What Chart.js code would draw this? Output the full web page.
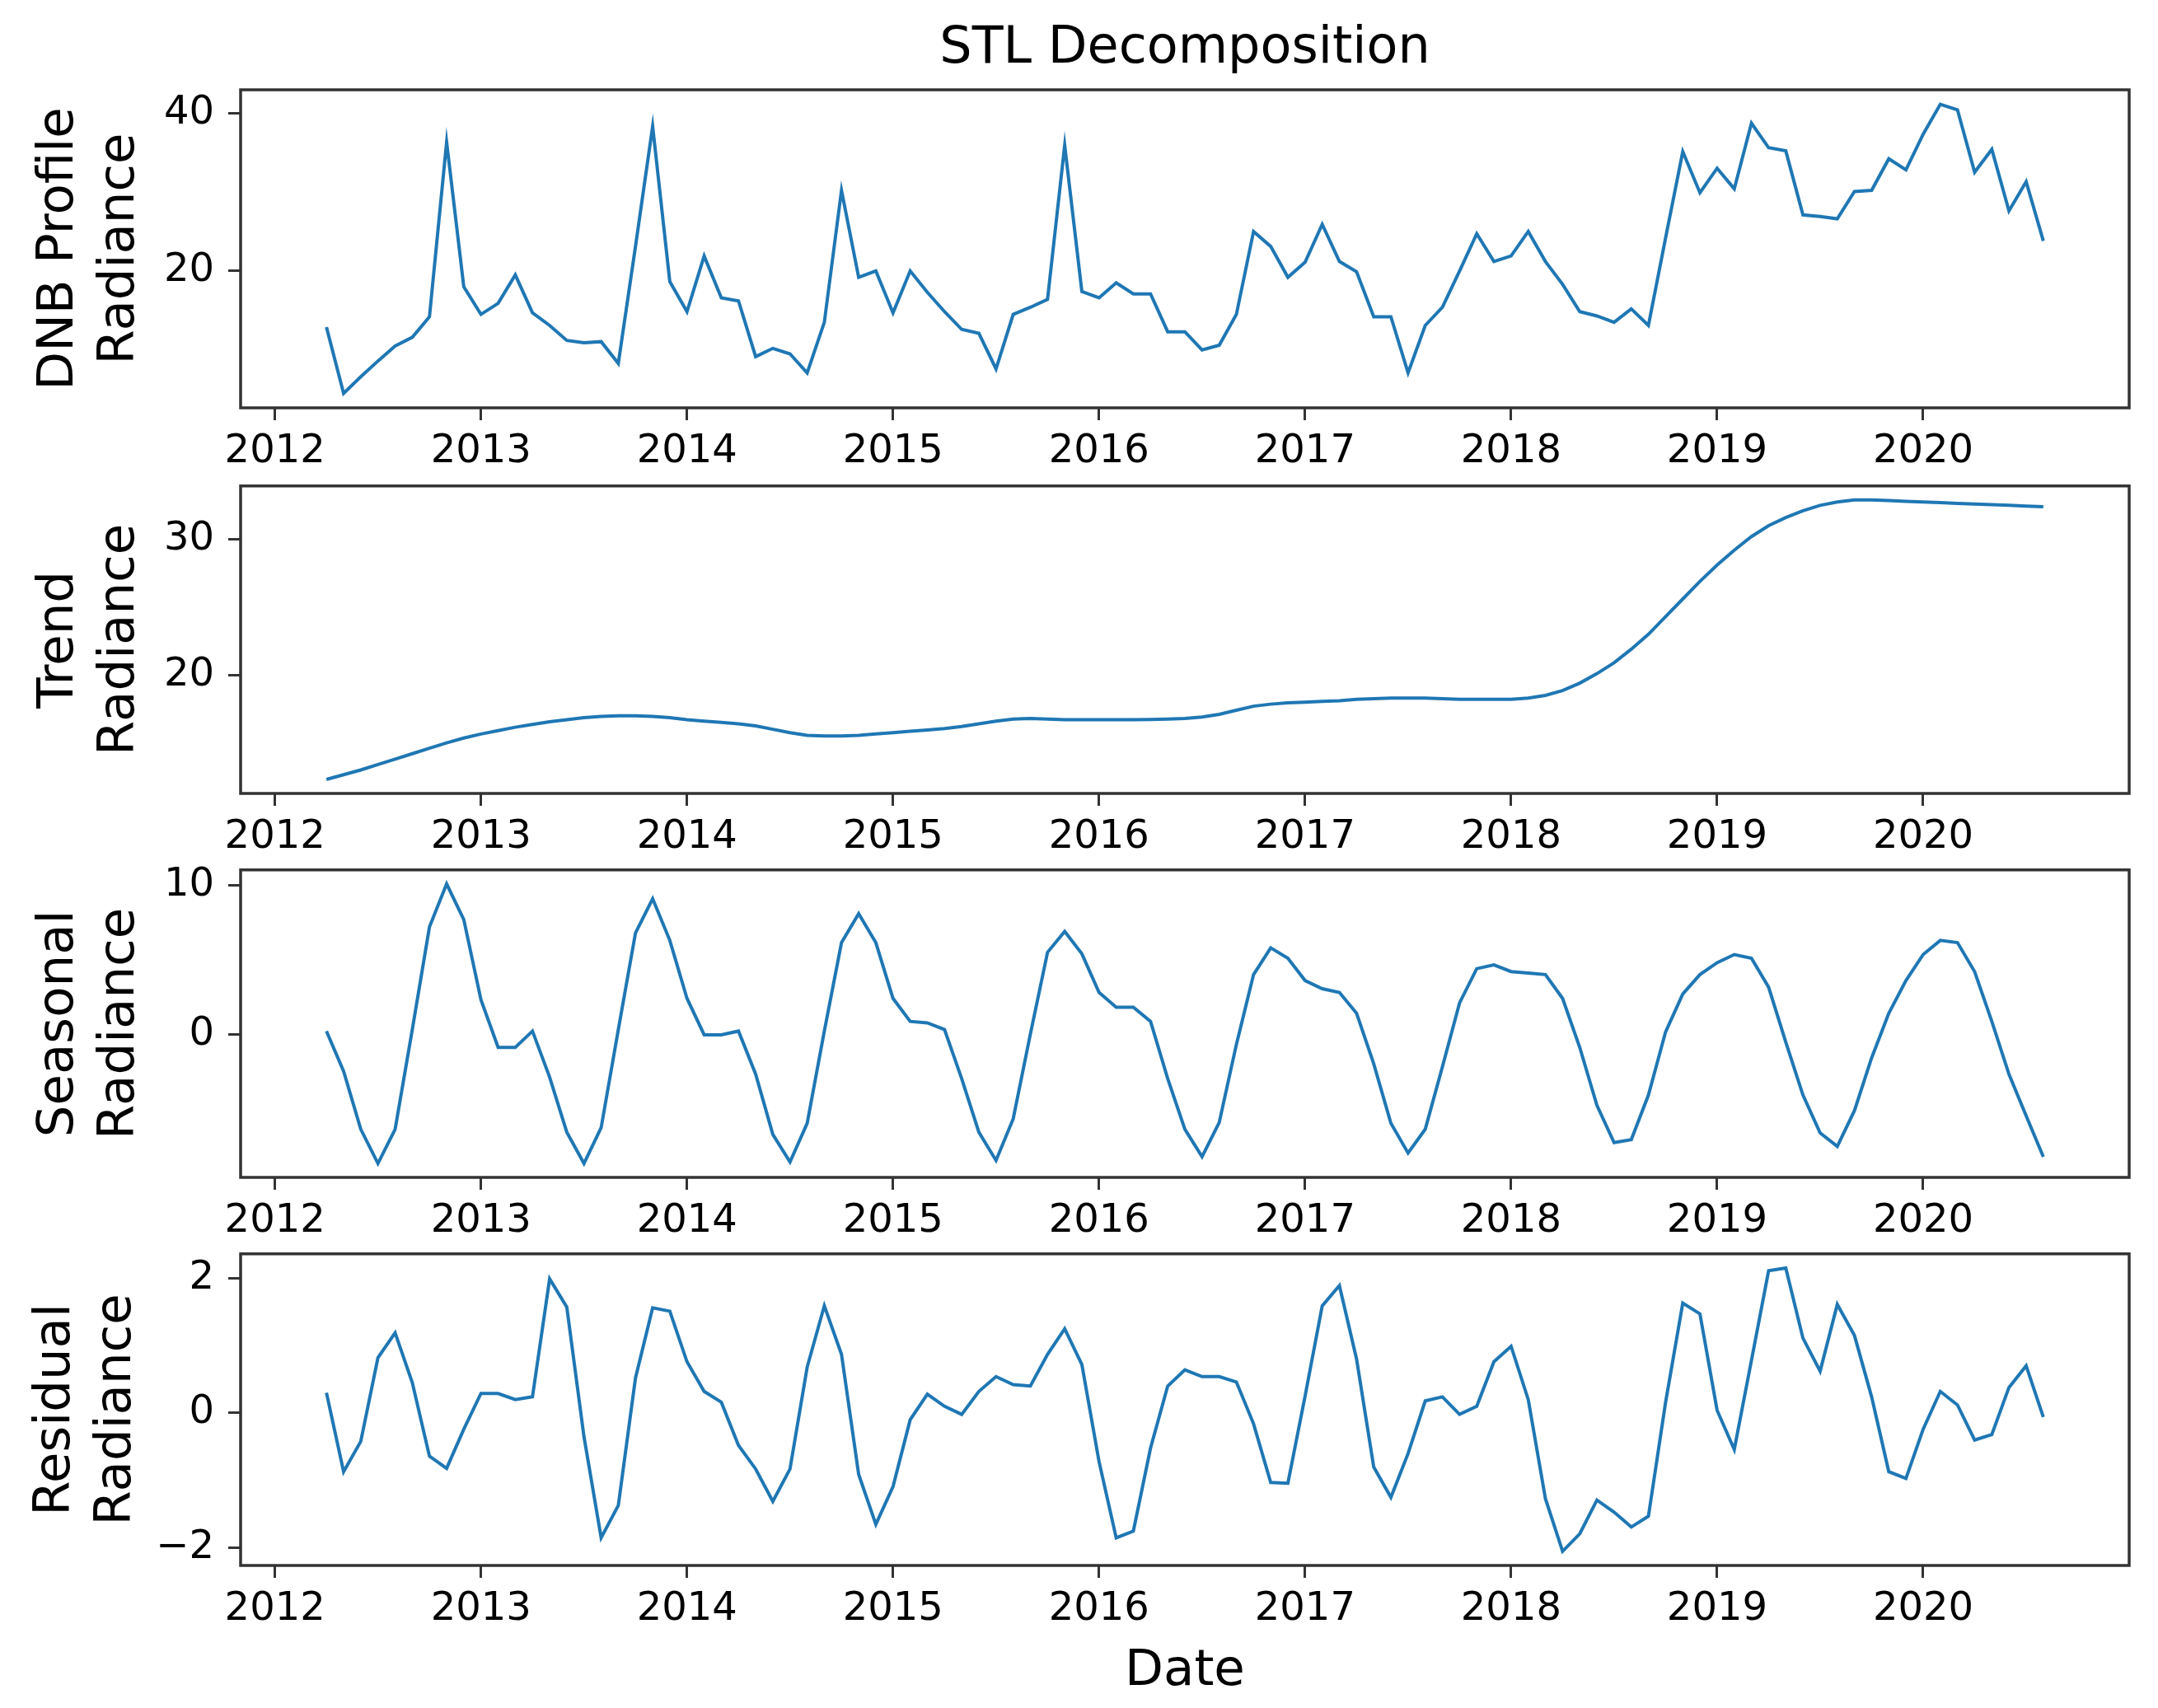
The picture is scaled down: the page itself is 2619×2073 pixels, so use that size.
<!DOCTYPE html>
<html>
<head>
<meta charset="utf-8">
<script src="https://cdn.jsdelivr.net/npm/chart.js@4.4.1/dist/chart.umd.min.js"></script>
<style>
  html, body { margin: 0; padding: 0; background: #ffffff; }
  #wrap { position: relative; width: 2619px; height: 2073px; overflow: hidden; background: #ffffff; }
  canvas { position: absolute; left: 0; }
</style>
</head>
<body>
<div id="wrap">
  <canvas id="c0"></canvas>
  <canvas id="c1"></canvas>
  <canvas id="c2"></canvas>
  <canvas id="c3"></canvas>
</div>
<script>
// ---------------- DATA ----------------
const months = [
  '2012-04','2012-05','2012-06','2012-07','2012-08','2012-09','2012-10','2012-11','2012-12',
  '2013-01','2013-02','2013-03','2013-04','2013-05','2013-06','2013-07','2013-08','2013-09','2013-10','2013-11','2013-12',
  '2014-01','2014-02','2014-03','2014-04','2014-05','2014-06','2014-07','2014-08','2014-09','2014-10','2014-11','2014-12',
  '2015-01','2015-02','2015-03','2015-04','2015-05','2015-06','2015-07','2015-08','2015-09','2015-10','2015-11','2015-12',
  '2016-01','2016-02','2016-03','2016-04','2016-05','2016-06','2016-07','2016-08','2016-09','2016-10','2016-11','2016-12',
  '2017-01','2017-02','2017-03','2017-04','2017-05','2017-06','2017-07','2017-08','2017-09','2017-10','2017-11','2017-12',
  '2018-01','2018-02','2018-03','2018-04','2018-05','2018-06','2018-07','2018-08','2018-09','2018-10','2018-11','2018-12',
  '2019-01','2019-02','2019-03','2019-04','2019-05','2019-06','2019-07','2019-08','2019-09','2019-10','2019-11','2019-12',
  '2020-01','2020-02','2020-03','2020-04','2020-05','2020-06','2020-07','2020-08'
];

const observed = [
  12.9, 4.5, 6.6, 8.6, 10.5, 11.6, 14.2, 36.3, 18.0,
  14.5, 15.9, 19.5, 14.7, 13.1, 11.2, 10.9, 11.05, 8.3, 23.1, 38.3, 18.65,
  14.85, 21.9, 16.6, 16.2, 9.15, 10.2, 9.5, 7.1, 13.5, 30.2, 19.2, 20.0,
  14.7, 20.0, 17.3, 14.85, 12.6, 12.1, 7.6, 14.5, 15.4, 16.4, 35.9, 17.4,
  16.6, 18.5, 17.1, 17.1, 12.3, 12.3, 10.0, 10.6, 14.5, 25.0, 23.1, 19.2,
  21.1, 25.9, 21.2, 19.9, 14.2, 14.2, 7.1, 13.1, 15.4, 20.0, 24.7, 21.2,
  21.9, 25.0, 21.2, 18.3, 14.85, 14.3, 13.5, 15.2, 13.1, 24.2, 35.1, 29.9,
  33.0, 30.4, 38.7, 35.6, 35.2, 27.1, 26.9, 26.6, 30.05, 30.2, 34.2, 32.8,
  37.3, 41.1, 40.4, 32.5, 35.4, 27.6, 31.3, 23.8
];

const trend = [
  12.3, 12.65, 13.0, 13.4, 13.8, 14.2, 14.6, 15.0, 15.35,
  15.65, 15.9, 16.15, 16.35, 16.55, 16.7, 16.85, 16.95, 17.0, 17.0, 16.95, 16.85,
  16.7, 16.6, 16.5, 16.4, 16.25, 16.0, 15.75, 15.55, 15.5, 15.5, 15.55, 15.65,
  15.75, 15.85, 15.95, 16.05, 16.2, 16.4, 16.6, 16.75, 16.8, 16.75, 16.7, 16.7,
  16.7, 16.7, 16.7, 16.72, 16.75, 16.8, 16.9, 17.1, 17.4, 17.7, 17.85, 17.95,
  18.0, 18.05, 18.1, 18.2, 18.25, 18.3, 18.3, 18.3, 18.25, 18.2, 18.2, 18.2,
  18.2, 18.3, 18.5, 18.85, 19.4, 20.1, 20.9, 21.9, 23.0, 24.3, 25.6, 26.9,
  28.1, 29.2, 30.2, 31.0, 31.6, 32.1, 32.5, 32.75, 32.9, 32.9, 32.85, 32.8,
  32.75, 32.7, 32.65, 32.6, 32.55, 32.5, 32.45, 32.4
];

const seasonal = [
  0.2, -2.5, -6.4, -8.7, -6.4, 0.3, 7.2, 10.1, 7.7,
  2.3, -0.9, -0.9, 0.2, -2.9, -6.6, -8.7, -6.3, 0.3, 6.8, 9.1, 6.3,
  2.4, -0.05, -0.05, 0.2, -2.7, -6.75, -8.6, -6.0, 0.2, 6.15, 8.1, 6.15,
  2.4, 0.85, 0.75, 0.3, -3.0, -6.6, -8.5, -5.7, 0.0, 5.5, 6.9, 5.4,
  2.8, 1.8, 1.8, 0.85, -3.0, -6.4, -8.25, -5.95, -0.7, 4.0, 5.8, 5.1,
  3.6, 3.05, 2.8, 1.4, -2.0, -6.0, -8.0, -6.4, -2.2, 2.1, 4.4, 4.65,
  4.2, 4.1, 4.0, 2.4, -0.9, -4.8, -7.3, -7.1, -4.1, 0.15, 2.7, 4.0,
  4.8, 5.35, 5.1, 3.15, -0.55, -4.1, -6.65, -7.55, -5.15, -1.6, 1.4, 3.6,
  5.35, 6.3, 6.15, 4.2, 0.85, -2.7, -5.5, -8.25
];

const residual = [
  0.3, -0.87, -0.42, 0.82, 1.19, 0.45, -0.64, -0.82, -0.24,
  0.29, 0.29, 0.2, 0.24, 1.99, 1.57, -0.35, -1.85, -1.37, 0.52, 1.56, 1.51,
  0.76, 0.32, 0.16, -0.48, -0.83, -1.31, -0.83, 0.68, 1.59, 0.87, -0.91, -1.65,
  -1.09, -0.1, 0.28, 0.1, -0.02, 0.32, 0.54, 0.42, 0.4, 0.87, 1.25, 0.72,
  -0.72, -1.85, -1.75, -0.52, 0.4, 0.64, 0.54, 0.54, 0.46, -0.16, -1.03, -1.04,
  0.25, 1.59, 1.89, 0.8, -0.8, -1.25, -0.6, 0.18, 0.24, -0.02, 0.1, 0.76,
  0.99, 0.2, -1.27, -2.05, -1.79, -1.29, -1.47, -1.69, -1.53, 0.16, 1.63, 1.47,
  0.04, -0.54, 0.78, 2.11, 2.15, 1.11, 0.62, 1.61, 1.15, 0.24, -0.87, -0.97,
  -0.24, 0.32, 0.12, -0.4, -0.32, 0.38, 0.7, -0.06
];

const yearTicks = [2012, 2013, 2014, 2015, 2016, 2017, 2018, 2019, 2020];
const observedTicks = [20, 40];
const trendTicks = [20, 30];
const seasonalTicks = [0, 10];
const residualTicks = [-2, 0, 2];

const titleText = 'STL Decomposition';
const xLabel = 'Date';
const yLabels = [
  ['DNB Profile', 'Radiance'],
  ['Trend', 'Radiance'],
  ['Seasonal', 'Radiance'],
  ['Residual', 'Radiance']
];

// ---------------- LAYOUT / STYLE ----------------
const W = 2619;
const H = 2073;
const AXIS_LEFT = 292;          // left edge of plot frames
const PLOT_RIGHT = 2584;        // right edge of plot frames
const panelTops = [109, 574, 1040, 1506];
const panelBottoms = [495, 963, 1429, 1900];
const yTitlePad = [36, 36, 36, 32];
const LINE_COLOR = '#1f77b4';
const FRAME_COLOR = '#333333';
const FONT = "'DejaVu Sans', 'Liberation Sans', sans-serif";
const TICK_SIZE = 48;
const LABEL_SIZE = 61;
const TITLE_SIZE = 62;
const TICK_LEN = 15;

Chart.defaults.font.family = FONT;
Chart.defaults.color = '#000000';

const xs = months.map(m => {
  const [y, mo] = m.split('-').map(Number);
  return y + (mo - 1) / 12;
});
const xMinData = Math.min(...xs), xMaxData = Math.max(...xs);
const xPad = (xMaxData - xMinData) * 0.05;

function yRange(vals) {
  const lo = Math.min(...vals), hi = Math.max(...vals);
  const p = (hi - lo) * 0.05;
  return [lo - p, hi + p];
}

function fmt(v) {
  return v < 0 ? '\u2212' + Math.abs(v) : String(v);
}

const framePlugin = {
  id: 'frame',
  afterDatasetsDraw(chart) {
    const { ctx, chartArea: a } = chart;
    ctx.save();
    ctx.strokeStyle = FRAME_COLOR;
    ctx.lineWidth = 3.5;
    ctx.strokeRect(a.left, a.top, a.right - a.left, a.bottom - a.top);
    ctx.restore();
  }
};

function makePanel(idx, values, ticks) {
  const isFirst = idx === 0;
  const isLast = idx === 3;
  const padTop = isFirst ? 0 : 30;
  const canvasTop = isFirst ? 0 : panelTops[idx] - padTop;
  const xAxisH = isLast ? (H - panelBottoms[idx]) : 85;
  const canvasH = (panelBottoms[idx] - canvasTop) + xAxisH;

  const cv = document.getElementById('c' + idx);
  cv.width = W;
  cv.height = canvasH;
  cv.style.width = W + 'px';
  cv.style.height = canvasH + 'px';
  cv.style.top = canvasTop + 'px';

  const [ymin, ymax] = yRange(values);
  const titlePadTop = 23;
  const titleLH = Math.round(TITLE_SIZE * 1.2);
  const titlePadBottom = panelTops[0] - titlePadTop - titleLH;

  new Chart(cv, {
    type: 'line',
    data: {
      datasets: [{
        data: xs.map((x, i) => ({ x: x, y: values[i] })),
        borderColor: LINE_COLOR,
        borderWidth: 4,
        pointRadius: 0,
        pointHoverRadius: 0,
        fill: false,
        tension: 0
      }]
    },
    options: {
      responsive: false,
      devicePixelRatio: 1,
      animation: false,
      events: [],
      layout: { padding: { top: padTop, right: W - PLOT_RIGHT, left: 0, bottom: 0 } },
      plugins: {
        legend: { display: false },
        tooltip: { enabled: false },
        title: {
          display: isFirst,
          fullSize: false,
          text: titleText,
          color: '#000000',
          font: { size: TITLE_SIZE, weight: 'normal', family: FONT, lineHeight: titleLH / TITLE_SIZE },
          padding: { top: titlePadTop, bottom: titlePadBottom }
        }
      },
      scales: {
        x: {
          type: 'linear',
          min: xMinData - xPad,
          max: xMaxData + xPad,
          afterBuildTicks: s => { s.ticks = yearTicks.map(v => ({ value: v })); },
          afterFit: s => { s.height = xAxisH; },
          border: { display: false },
          grid: {
            display: true, drawOnChartArea: false, drawTicks: true,
            tickLength: TICK_LEN, tickWidth: 3, tickColor: FRAME_COLOR, color: FRAME_COLOR
          },
          ticks: {
            autoSkip: false, maxRotation: 0, minRotation: 0, padding: 10,
            color: '#000000',
            font: { size: TICK_SIZE, family: FONT },
            callback: v => String(v)
          },
          title: {
            display: isLast,
            text: xLabel,
            color: '#000000',
            font: { size: LABEL_SIZE, family: FONT, lineHeight: 1.2 },
            padding: { top: 0, bottom: 7 }
          }
        },
        y: {
          type: 'linear',
          min: ymin,
          max: ymax,
          afterBuildTicks: s => { s.ticks = ticks.map(v => ({ value: v })); },
          afterFit: s => { s.width = AXIS_LEFT; },
          border: { display: false },
          grid: {
            display: true, drawOnChartArea: false, drawTicks: true,
            tickLength: TICK_LEN, tickWidth: 3, tickColor: FRAME_COLOR, color: FRAME_COLOR
          },
          ticks: {
            autoSkip: false, padding: 17,
            color: '#000000',
            font: { size: TICK_SIZE, family: FONT },
            callback: v => fmt(v)
          },
          title: {
            display: true,
            text: yLabels[idx],
            color: '#000000',
            font: { size: LABEL_SIZE, family: FONT, lineHeight: 1.2 },
            padding: { top: yTitlePad[idx], bottom: 0 }
          }
        }
      }
    },
    plugins: [framePlugin]
  });
}

makePanel(0, observed, observedTicks);
makePanel(1, trend, trendTicks);
makePanel(2, seasonal, seasonalTicks);
makePanel(3, residual, residualTicks);
</script>
</body>
</html>
